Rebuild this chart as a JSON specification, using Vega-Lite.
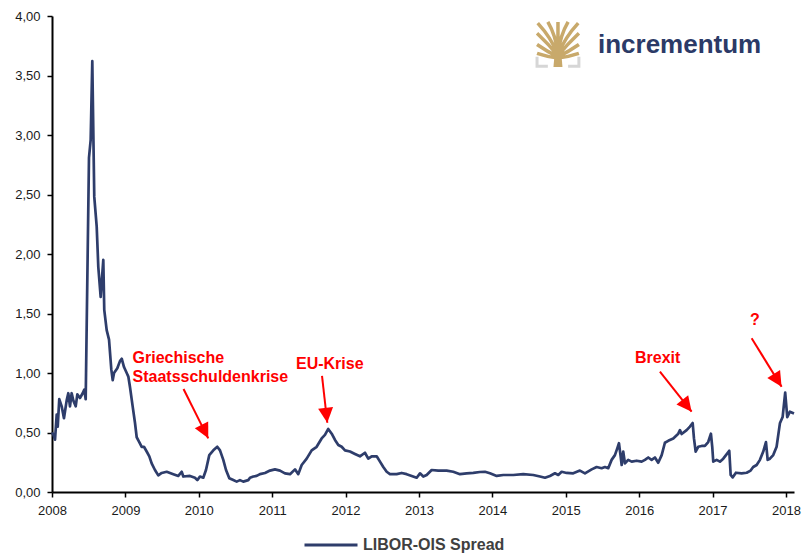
{
  "$schema": "https://vega.github.io/schema/vega-lite/v6.json",
  "autosize": {"type": "none"},
  "padding": {"left": 52, "top": 16, "right": 14, "bottom": 62},
  "width": 742,
  "height": 476,
  "background": "white",
  "config": {
    "view": {"stroke": null},
    "locale": {"number": {"decimal": ",", "thousands": ".", "grouping": [3], "currency": ["", " €"]}},
    "axis": {
      "grid": false,
      "domainColor": "#000000",
      "domainWidth": 2,
      "tickColor": "#000000",
      "tickWidth": 1.5,
      "tickSize": 5,
      "labelFont": "Liberation Sans",
      "labelFontSize": 13,
      "labelColor": "#1a1a1a",
      "labelPadding": 7,
      "title": null
    }
  },
  "datasets": {
    "series": [
      {"t":2008.000,"v":0.50},{"t":2008.020,"v":0.48},{"t":2008.041,"v":0.44},{"t":2008.064,"v":0.65},{"t":2008.078,"v":0.55},{"t":2008.099,"v":0.78},{"t":2008.132,"v":0.72},{"t":2008.163,"v":0.62},{"t":2008.200,"v":0.77},{"t":2008.222,"v":0.83},{"t":2008.245,"v":0.72},{"t":2008.268,"v":0.83},{"t":2008.290,"v":0.77},{"t":2008.323,"v":0.72},{"t":2008.345,"v":0.82},{"t":2008.381,"v":0.79},{"t":2008.418,"v":0.83},{"t":2008.440,"v":0.86},{"t":2008.459,"v":0.78},{"t":2008.504,"v":2.81},{"t":2008.527,"v":2.96},{"t":2008.549,"v":3.62},{"t":2008.576,"v":2.48},{"t":2008.609,"v":2.23},{"t":2008.631,"v":1.89},{"t":2008.663,"v":1.64},{"t":2008.699,"v":1.95},{"t":2008.712,"v":1.53},{"t":2008.745,"v":1.36},{"t":2008.777,"v":1.28},{"t":2008.808,"v":1.03},{"t":2008.827,"v":0.94},{"t":2008.845,"v":1.00},{"t":2008.890,"v":1.04},{"t":2008.926,"v":1.10},{"t":2008.950,"v":1.12},{"t":2008.981,"v":1.05},{"t":2009.018,"v":1.00},{"t":2009.040,"v":0.97},{"t":2009.063,"v":0.88},{"t":2009.099,"v":0.72},{"t":2009.131,"v":0.58},{"t":2009.154,"v":0.46},{"t":2009.189,"v":0.42},{"t":2009.222,"v":0.38},{"t":2009.253,"v":0.38},{"t":2009.290,"v":0.34},{"t":2009.326,"v":0.30},{"t":2009.358,"v":0.24},{"t":2009.403,"v":0.185},{"t":2009.448,"v":0.14},{"t":2009.495,"v":0.16},{"t":2009.563,"v":0.17},{"t":2009.653,"v":0.15},{"t":2009.721,"v":0.135},{"t":2009.767,"v":0.17},{"t":2009.789,"v":0.13},{"t":2009.880,"v":0.135},{"t":2009.948,"v":0.12},{"t":2009.980,"v":0.10},{"t":2010.016,"v":0.13},{"t":2010.061,"v":0.12},{"t":2010.098,"v":0.185},{"t":2010.143,"v":0.31},{"t":2010.198,"v":0.35},{"t":2010.252,"v":0.38},{"t":2010.289,"v":0.35},{"t":2010.334,"v":0.27},{"t":2010.371,"v":0.185},{"t":2010.416,"v":0.115},{"t":2010.470,"v":0.10},{"t":2010.516,"v":0.087},{"t":2010.561,"v":0.10},{"t":2010.606,"v":0.087},{"t":2010.674,"v":0.10},{"t":2010.698,"v":0.12},{"t":2010.743,"v":0.13},{"t":2010.789,"v":0.135},{"t":2010.834,"v":0.15},{"t":2010.902,"v":0.16},{"t":2010.970,"v":0.18},{"t":2011.038,"v":0.19},{"t":2011.106,"v":0.18},{"t":2011.174,"v":0.157},{"t":2011.243,"v":0.15},{"t":2011.311,"v":0.19},{"t":2011.356,"v":0.15},{"t":2011.402,"v":0.227},{"t":2011.470,"v":0.28},{"t":2011.538,"v":0.35},{"t":2011.606,"v":0.38},{"t":2011.674,"v":0.45},{"t":2011.719,"v":0.48},{"t":2011.764,"v":0.53},{"t":2011.811,"v":0.49},{"t":2011.856,"v":0.437},{"t":2011.901,"v":0.395},{"t":2011.947,"v":0.38},{"t":2011.992,"v":0.35},{"t":2012.060,"v":0.34},{"t":2012.128,"v":0.32},{"t":2012.196,"v":0.30},{"t":2012.264,"v":0.33},{"t":2012.309,"v":0.28},{"t":2012.356,"v":0.30},{"t":2012.424,"v":0.30},{"t":2012.469,"v":0.255},{"t":2012.514,"v":0.21},{"t":2012.560,"v":0.17},{"t":2012.605,"v":0.15},{"t":2012.696,"v":0.15},{"t":2012.764,"v":0.16},{"t":2012.832,"v":0.15},{"t":2012.901,"v":0.135},{"t":2012.969,"v":0.12},{"t":2013.014,"v":0.157},{"t":2013.059,"v":0.13},{"t":2013.105,"v":0.143},{"t":2013.173,"v":0.185},{"t":2013.263,"v":0.18},{"t":2013.377,"v":0.18},{"t":2013.467,"v":0.17},{"t":2013.559,"v":0.15},{"t":2013.650,"v":0.157},{"t":2013.740,"v":0.16},{"t":2013.831,"v":0.168},{"t":2013.899,"v":0.17},{"t":2013.967,"v":0.157},{"t":2014.059,"v":0.135},{"t":2014.149,"v":0.143},{"t":2014.285,"v":0.143},{"t":2014.421,"v":0.15},{"t":2014.557,"v":0.143},{"t":2014.649,"v":0.13},{"t":2014.717,"v":0.12},{"t":2014.785,"v":0.135},{"t":2014.853,"v":0.157},{"t":2014.898,"v":0.143},{"t":2014.944,"v":0.17},{"t":2015.012,"v":0.16},{"t":2015.102,"v":0.157},{"t":2015.193,"v":0.18},{"t":2015.262,"v":0.157},{"t":2015.353,"v":0.19},{"t":2015.421,"v":0.21},{"t":2015.489,"v":0.20},{"t":2015.534,"v":0.21},{"t":2015.579,"v":0.20},{"t":2015.625,"v":0.27},{"t":2015.670,"v":0.31},{"t":2015.702,"v":0.367},{"t":2015.725,"v":0.41},{"t":2015.748,"v":0.30},{"t":2015.762,"v":0.227},{"t":2015.783,"v":0.34},{"t":2015.807,"v":0.24},{"t":2015.851,"v":0.27},{"t":2015.898,"v":0.255},{"t":2015.966,"v":0.263},{"t":2016.034,"v":0.255},{"t":2016.079,"v":0.27},{"t":2016.124,"v":0.29},{"t":2016.170,"v":0.27},{"t":2016.215,"v":0.29},{"t":2016.260,"v":0.246},{"t":2016.307,"v":0.31},{"t":2016.351,"v":0.414},{"t":2016.396,"v":0.43},{"t":2016.465,"v":0.45},{"t":2016.533,"v":0.49},{"t":2016.556,"v":0.52},{"t":2016.579,"v":0.487},{"t":2016.647,"v":0.52},{"t":2016.692,"v":0.55},{"t":2016.729,"v":0.58},{"t":2016.747,"v":0.45},{"t":2016.770,"v":0.34},{"t":2016.805,"v":0.38},{"t":2016.852,"v":0.387},{"t":2016.896,"v":0.387},{"t":2016.941,"v":0.42},{"t":2016.978,"v":0.49},{"t":2016.996,"v":0.38},{"t":2017.010,"v":0.255},{"t":2017.056,"v":0.27},{"t":2017.101,"v":0.255},{"t":2017.146,"v":0.28},{"t":2017.183,"v":0.31},{"t":2017.228,"v":0.347},{"t":2017.247,"v":0.143},{"t":2017.274,"v":0.123},{"t":2017.319,"v":0.162},{"t":2017.396,"v":0.157},{"t":2017.465,"v":0.162},{"t":2017.519,"v":0.18},{"t":2017.554,"v":0.21},{"t":2017.601,"v":0.227},{"t":2017.646,"v":0.27},{"t":2017.691,"v":0.34},{"t":2017.728,"v":0.42},{"t":2017.751,"v":0.27},{"t":2017.782,"v":0.28},{"t":2017.827,"v":0.31},{"t":2017.873,"v":0.38},{"t":2017.918,"v":0.577},{"t":2017.955,"v":0.63},{"t":2017.990,"v":0.835},{"t":2018.018,"v":0.63},{"t":2018.054,"v":0.675},{"t":2018.110,"v":0.66}
    ],
    "notes": [
      {"t": 2009.097, "v": 1.087, "label": "Griechische"},
      {"t": 2009.097, "v": 0.927, "label": "Staatsschuldenkrise"},
      {"t": 2011.324, "v": 1.034, "label": "EU-Krise"},
      {"t": 2015.943, "v": 1.082, "label": "Brexit"},
      {"t": 2017.510, "v": 1.403, "label": "?"}
    ],
    "arrows": [
      {"t0": 2009.792, "v0": 0.866, "t": 2010.129, "v": 0.451, "dir": 153.3},
      {"t0": 2011.679, "v0": 0.975, "t": 2011.751, "v": 0.582, "dir": 173.5},
      {"t0": 2016.283, "v0": 1.011, "t": 2016.715, "v": 0.675, "dir": 141.6},
      {"t0": 2017.533, "v0": 1.292, "t": 2017.941, "v": 0.885, "dir": 148.2}
    ],
    "logo": [{"t": 2014.894, "v": 3.761}],
    "brand": [{"t": 2015.439, "v": 3.687, "label": "incrementum"}]
  },
  "layer": [
    {
      "data": {"name": "series"},
      "mark": {"type": "line", "strokeWidth": 2.7, "strokeJoin": "round"},
      "encoding": {
        "x": {"field": "t", "type": "quantitative", "scale": {"domain": [2008, 2018.11], "nice": false, "zero": false},
              "axis": {"values": [2008,2009,2010,2011,2012,2013,2014,2015,2016,2017,2018], "format": "d", "labelFlush": false}},
        "y": {"field": "v", "type": "quantitative", "scale": {"domain": [0, 4], "nice": false, "zero": false},
              "axis": {"values": [0,0.5,1,1.5,2,2.5,3,3.5,4], "format": ".2f"}},
        "color": {"datum": "LIBOR-OIS Spread", "type": "nominal", "scale": {"range": ["#2e3d6b"]},
                  "legend": {"orient": "none", "legendX": 251, "legendY": 501, "title": null, "symbolType": "stroke",
                             "symbolSize": 2809, "symbolStrokeWidth": 3, "labelFont": "Liberation Sans", "labelFontSize": 16,
                             "labelFontWeight": "bold", "labelColor": "#404040", "labelOffset": 4, "padding": 0}}
      }
    },
    {
      "data": {"name": "arrows"},
      "mark": {"type": "rule", "color": "#ff0000", "strokeWidth": 2},
      "encoding": {
        "x": {"field": "t0", "type": "quantitative", "scale": {"domain": [2008, 2018.11], "nice": false, "zero": false}},
        "y": {"field": "v0", "type": "quantitative", "scale": {"domain": [0, 4], "nice": false, "zero": false}},
        "x2": {"field": "t"},
        "y2": {"field": "v"}
      }
    },
    {
      "data": {"name": "arrows"},
      "mark": {"type": "point", "shape": "M0,0L0.5,1L-0.5,1Z", "filled": true, "color": "#ff0000", "size": 900, "opacity": 1, "strokeWidth": 0},
      "encoding": {
        "x": {"field": "t", "type": "quantitative", "scale": {"domain": [2008, 2018.11], "nice": false, "zero": false}},
        "y": {"field": "v", "type": "quantitative", "scale": {"domain": [0, 4], "nice": false, "zero": false}},
        "angle": {"field": "dir", "type": "quantitative", "scale": null}
      }
    },
    {
      "data": {"name": "notes"},
      "mark": {"type": "text", "align": "left", "baseline": "alphabetic", "font": "Liberation Sans", "fontWeight": "bold", "fontSize": 16, "color": "#ff0000"},
      "encoding": {
        "x": {"field": "t", "type": "quantitative", "scale": {"domain": [2008, 2018.11], "nice": false, "zero": false}},
        "y": {"field": "v", "type": "quantitative", "scale": {"domain": [0, 4], "nice": false, "zero": false}},
        "text": {"field": "label"}
      }
    },
    {
      "data": {"name": "logo"},
      "mark": {"type": "point", "shape": "M-0.2,1L0.2,1L0.14,0.3L-0.14,0.3Z", "filled": true, "color": "#c8a96b", "size": 2025, "opacity": 1, "strokeWidth": 0},
      "encoding": {
        "x": {"field": "t", "type": "quantitative", "scale": {"domain": [2008, 2018.11], "nice": false, "zero": false}},
        "y": {"field": "v", "type": "quantitative", "scale": {"domain": [0, 4], "nice": false, "zero": false}}
      }
    },
    {
      "data": {"name": "logo"},
      "mark": {"type": "point", "shape": "M0,0.5L0,-1M0,0.4Q-0.1,-0.4,-0.45,-1M0,0.4Q0.1,-0.4,0.45,-1M0,0.45Q-0.3,-0.3,-0.9,-0.95M0,0.45Q0.3,-0.3,0.9,-0.95M0,0.5Q-0.4,0,-0.93,-0.5M0,0.5Q0.4,0,0.93,-0.5M0,0.55Q-0.5,0.3,-0.93,0M0,0.55Q0.5,0.3,0.93,0M0,0.6Q-0.5,0.55,-0.93,0.4M0,0.6Q0.5,0.55,0.93,0.4", "filled": false, "color": "#c8a96b", "size": 2025, "opacity": 1, "strokeWidth": 3.5, "strokeCap": "butt"},
      "encoding": {
        "x": {"field": "t", "type": "quantitative", "scale": {"domain": [2008, 2018.11], "nice": false, "zero": false}},
        "y": {"field": "v", "type": "quantitative", "scale": {"domain": [0, 4], "nice": false, "zero": false}}
      }
    },
    {
      "data": {"name": "logo"},
      "mark": {"type": "point", "shape": "M-0.93,0.55L-0.93,0.97L-0.45,0.97M0.93,0.55L0.93,0.97L0.45,0.97", "filled": false, "color": "#d6d6d6", "size": 2025, "opacity": 1, "strokeWidth": 3},
      "encoding": {
        "x": {"field": "t", "type": "quantitative", "scale": {"domain": [2008, 2018.11], "nice": false, "zero": false}},
        "y": {"field": "v", "type": "quantitative", "scale": {"domain": [0, 4], "nice": false, "zero": false}}
      }
    },
    {
      "data": {"name": "brand"},
      "mark": {"type": "text", "align": "left", "baseline": "alphabetic", "font": "Liberation Sans", "fontWeight": "bold", "fontSize": 26, "color": "#2b3a67"},
      "encoding": {
        "x": {"field": "t", "type": "quantitative", "scale": {"domain": [2008, 2018.11], "nice": false, "zero": false}},
        "y": {"field": "v", "type": "quantitative", "scale": {"domain": [0, 4], "nice": false, "zero": false}},
        "text": {"field": "label"}
      }
    }
  ]
}
